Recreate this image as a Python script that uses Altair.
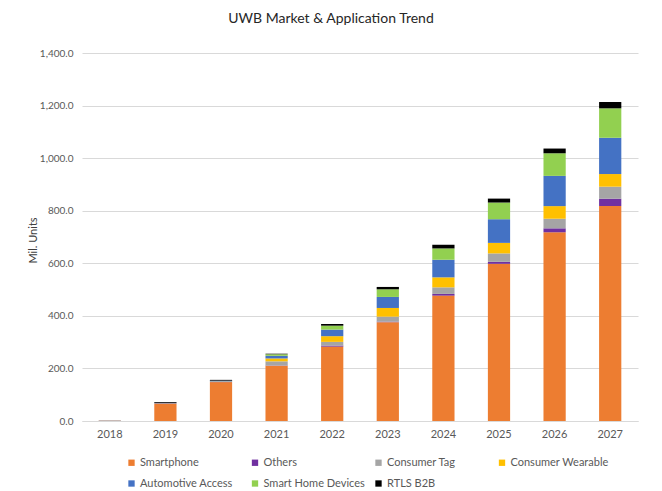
import altair as alt
import pandas as pd

years = ["2018", "2019", "2020", "2021", "2022", "2023", "2024", "2025", "2026", "2027"]

series_names = ["Smartphone", "Others", "Consumer Tag", "Consumer Wearable",
                "Automotive Access", "Smart Home Devices", "RTLS B2B"]
series_colors = ["#ED7D31", "#7030A0", "#A5A5A5", "#FFC000", "#4472C4", "#92D050", "#000000"]

smartphone = [1, 67, 148, 210, 283, 376, 477, 598, 718, 818]
others = [0.3, 0, 0.5, 1, 4, 2, 6.5, 7.6, 15, 27.8]
consumer_tag = [2, 0, 1, 16, 14, 19, 25, 32, 36.5, 45.7]
consumer_wearable = [0, 0, 1, 11, 21.7, 33, 38, 40, 48, 48]
automotive_access = [0, 2, 3, 10, 25, 42, 67, 90, 115, 138]
smart_home = [0, 0, 0, 6, 15, 29, 43, 63.5, 86, 112]
rtls_b2b = [0, 3, 3, 2, 6.4, 9, 14, 15, 18, 24]

series_values = [smartphone, others, consumer_tag, consumer_wearable,
                 automotive_access, smart_home, rtls_b2b]

rows = []
for i, (name, vals) in enumerate(zip(series_names, series_values)):
    for yr, v in zip(years, vals):
        rows.append({"Year": yr, "Series": name, "Value": v, "Order": i})
df = pd.DataFrame(rows)

FONT = "Lato"

chart = alt.Chart(df).mark_bar().encode(
    x=alt.X("Year:N", sort=years, title=None,
            scale=alt.Scale(paddingInner=0.6, paddingOuter=0.3),
            axis=alt.Axis(labelAngle=0, ticks=False, domainColor="#D9D9D9",
                          labelColor="#595959", labelFontSize=11, labelFont=FONT,
                          labelPadding=7, grid=False)),
    y=alt.Y("Value:Q", stack="zero", title="Mil. Units",
            scale=alt.Scale(domain=[0, 1400], nice=False),
            axis=alt.Axis(values=list(range(0, 1401, 200)), format=",.1f",
                          domain=False, ticks=False, gridColor="#D9D9D9",
                          labelColor="#595959", labelFontSize=10, labelFont=FONT,
                          labelPadding=9,
                          titleFont=FONT, titleFontSize=11, titleFontWeight="normal",
                          titleColor="#404040", titleX=-49, titleY=187,
                          titleAlign="center", titleBaseline="middle")),
    color=alt.Color("Series:N",
                    scale=alt.Scale(domain=series_names, range=series_colors),
                    legend=alt.Legend(title=None, orient="none", legendX=44, legendY=404,
                                      direction="horizontal", columns=4, gridAlign="all",
                                      symbolType="square", symbolSize=40,
                                      symbolStrokeWidth=0, labelFont=FONT,
                                      labelFontSize=11, labelColor="#595959",
                                      labelOffset=3, columnPadding=7.5, rowPadding=9,
                                      labelLimit=200)),
    order=alt.Order("Order:Q", sort="ascending"),
).properties(
    width=556, height=368,
    title=alt.TitleParams("UWB Market & Application Trend", font=FONT, fontSize=14,
                          fontWeight="normal", color="#262626", anchor="middle",
                          dx=-29, offset=22),
    autosize=alt.AutoSizeParams(type="none"),
    padding={"left": 74, "top": 45, "right": 16, "bottom": 68},
).configure_view(stroke=None)

chart.save("out.html", embed_options={"renderer": "svg", "actions": False})
